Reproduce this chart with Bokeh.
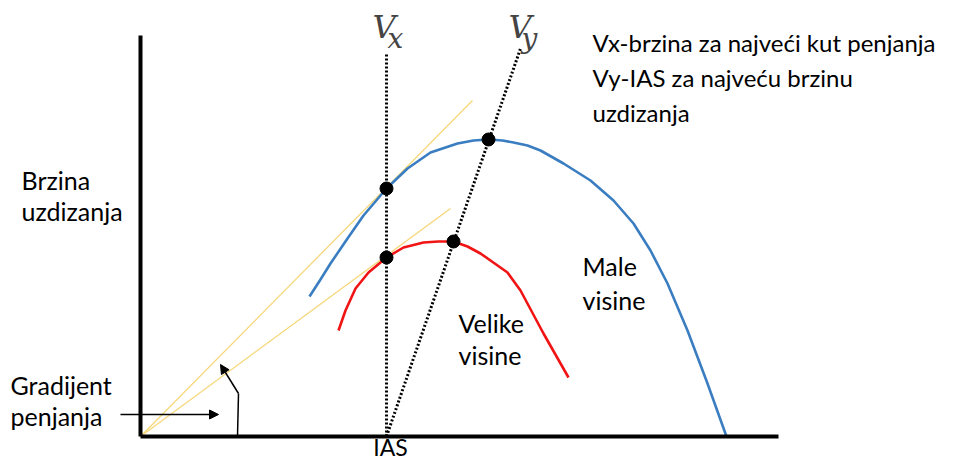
from bokeh.plotting import figure
from bokeh.models import Range1d, LinearAxis, Label, Arrow, NormalHead, FixedTicker
from bokeh.embed import file_html
from bokeh.resources import INLINE

# ---- data (IAS on x, rate of climb on y, arbitrary units) ----
ias_low = [169, 180, 190, 207, 223, 246, 267, 290, 317, 333, 348, 362, 373, 387, 400, 423, 450, 473, 493, 510, 527, 547, 567, 586]
roc_low = [140, 157, 173, 198, 221, 248, 268, 284, 293, 296, 297, 296, 294, 291, 286, 273, 256, 236, 213, 186, 153, 106, 53, 0]

ias_high = [198, 205, 215, 228, 246, 263, 283, 298, 313, 327, 340, 367, 380, 403, 428]
roc_high = [106, 126, 148, 164, 179, 189, 194, 195, 195, 190, 183, 164, 146, 103, 59]

# tangent lines from origin (climb gradient)
tan_low_x = [0, 332]
tan_low_y = [0, 336]
tan_high_x = [0, 310]
tan_high_y = [0, 228]

# Vx (best angle) and Vy (best rate) construction lines
vx_line_x = [246, 246]
vx_line_y = [0, 384]
vy_line_x = [246, 380]
vy_line_y = [0, 388]

# marked points
pts_x = [246, 246, 348, 313]
pts_y = [248, 179, 297, 195]

axis_x_end = 638
axis_y_end = 401

p = figure(width=942, height=460, output_backend="svg", toolbar_location=None,
           x_range=Range1d(-140, 802), y_range=Range1d(-24, 436),
           x_axis_location=None, y_axis_location=None, min_border=0)
p.outline_line_color = None
p.grid.visible = False
p.background_fill_color = "white"
p.border_fill_color = "white"

def bare_axis(bounds):
    ax = LinearAxis(ticker=FixedTicker(ticks=[]))
    ax.fixed_location = 0
    ax.bounds = bounds
    ax.axis_line_width = 4
    ax.axis_line_color = "black"
    ax.major_tick_line_color = None
    ax.minor_tick_line_color = None
    ax.major_tick_out = 0
    ax.major_tick_in = 0
    ax.minor_tick_out = 0
    ax.minor_tick_in = 0
    return ax

p.add_layout(bare_axis((0, axis_y_end)), "left")
p.add_layout(bare_axis((0, axis_x_end)), "below")

yellow = "#f6d77a"
p.line(tan_low_x, tan_low_y, line_color=yellow, line_width=1.3)
p.line(tan_high_x, tan_high_y, line_color=yellow, line_width=1.3)

p.line(ias_low, roc_low, line_color="#3a7dc0", line_width=2.6, line_join="round")
p.line(ias_high, roc_high, line_color="#f01414", line_width=2.6, line_join="round")

p.line(vx_line_x, vx_line_y, line_color="black", line_width=3, line_dash="2 2")
p.line(vy_line_x, vy_line_y, line_color="black", line_width=3, line_dash="2 2")

p.scatter(pts_x, pts_y, size=13, color="black")

# arrows
p.add_layout(Arrow(end=NormalHead(size=9, fill_color="black", line_color="black"),
                   x_start=-20, y_start=22, x_end=78, y_end=22,
                   line_color="black", line_width=1.5))
p.line([97, 98], [0, 43], line_color="black", line_width=1.5)
p.add_layout(Arrow(end=NormalHead(size=9, fill_color="black", line_color="black"),
                   x_start=98, y_start=43, x_end=80, y_end=72,
                   line_color="black", line_width=1.5))

font = "Lato"
def lab(x, y, t, size="24px", **kw):
    p.add_layout(Label(x=x, y=y, text=t, text_font=font, text_font_size=size,
                       text_color="black", text_baseline="alphabetic", **kw))

lab(452, 394, "Vx-brzina za najveći kut penjanja", size="24px")
lab(452, 359, "Vy-IAS za najveću brzinu", size="24px")
lab(452, 324, "uzdizanja", size="24px")

lab(-119, 257, "Brzina", size="25px")
lab(-119, 226, "uzdizanja", size="25px")

lab(-130, 52, "Gradijent", size="25px")
lab(-130, 21, "penjanja", size="25px")

lab(250, -10, "IAS", size="23px", text_align="center")

lab(318, 114, "Velike", size="25px")
lab(318, 82, "visine", size="25px")
lab(442, 171, "Male", size="25px")
lab(442, 137, "visine", size="25px")

def vlab(x, y, sub, dx):
    p.add_layout(Label(x=x, y=y, text="V", text_font="DejaVu Serif", text_font_style="italic",
                       text_font_size="32px", text_baseline="alphabetic"))
    p.add_layout(Label(x=x + dx, y=y - 12, text=sub, text_font="DejaVu Serif", text_font_style="italic",
                       text_font_size="28px", text_baseline="alphabetic"))

vlab(232, 410, "x", 15)
vlab(368, 410, "y", 13)

open("out.html", "w").write(file_html(p, INLINE))
